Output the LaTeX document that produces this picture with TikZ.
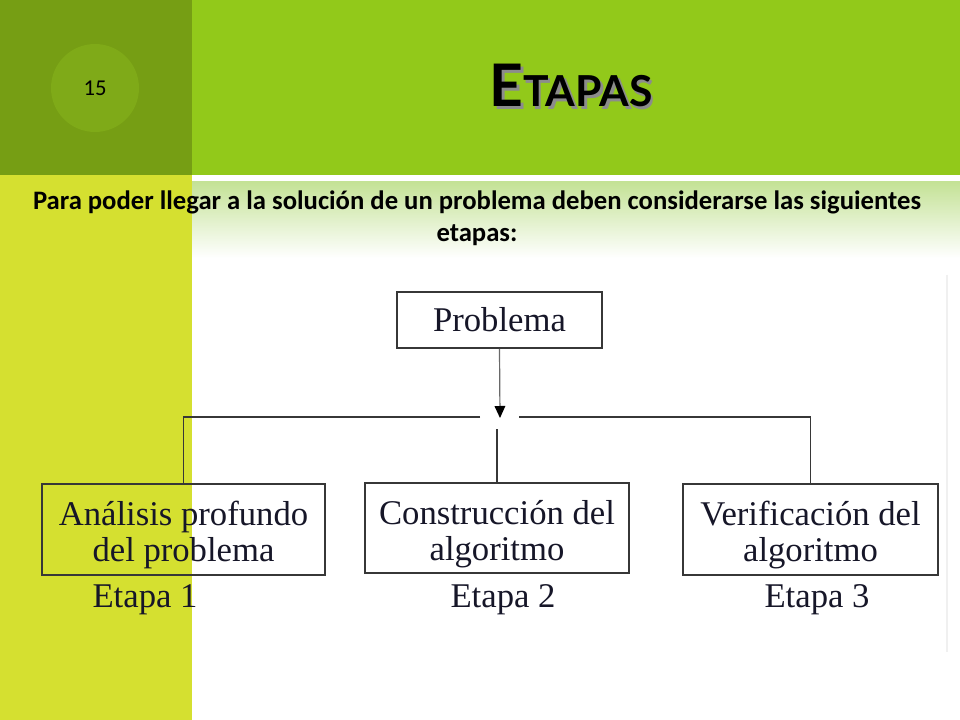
\documentclass[tikz,border=0pt]{standalone}
\usepackage{fontspec}
\setmainfont{Liberation Serif}
\newfontfamily\slidefont{Carlito}
\newfontfamily\titlefont{Lato}
\usetikzlibrary{positioning,arrows.meta}

\definecolor{olivebar}{RGB}{118,158,20}
\definecolor{numcircle}{RGB}{127,170,24}
\definecolor{leafgreen}{RGB}{146,201,26}
\definecolor{limestrip}{RGB}{213,224,48}
\definecolor{bandgreen}{RGB}{196,226,150}
\definecolor{boxline}{RGB}{55,55,55}
\definecolor{inkblue}{RGB}{22,22,40}

\newcommand{\titleword}{{\fontsize{44}{44}\selectfont E}{\fontsize{32}{32}\selectfont TAPAS}}
\newcommand{\lowerline}{\rule{0pt}{27pt}}

\begin{document}
\begin{tikzpicture}[x=0.75pt, y=-0.75pt, >={Triangle[length=9pt,width=8pt,black]}, thick]
  \useasboundingbox (0,0) rectangle (960,720);

  % Slide background
  \fill[white] (0,0) rectangle (960,720);
  \fill[olivebar] (0,0) rectangle (192,175);
  \fill[leafgreen] (192,0) rectangle (960,175);
  \fill[limestrip] (0,175) rectangle (192,720);
  \shade[top color=bandgreen, bottom color=white] (192,182) rectangle (960,258);
  \draw[black!6, line width=1pt] (947,275) -- (947,652);

  % Slide number and title
  \node[circle, fill=numcircle, minimum size=66pt, inner sep=0pt] (slidenum) at (95,88) {};
  \node[font=\slidefont\fontsize{17}{19}\selectfont] (numtext) at (slidenum) {15};
  \node[anchor=base, font=\titlefont\bfseries] (title) at (571,107)
    {\makebox[0pt][l]{\hspace{2pt}\raisebox{-2pt}{\color{black!45}\titleword}}\titleword};

  % Intro text
  \node[align=center, font=\slidefont\bfseries\fontsize{20}{24}\selectfont] (intro) at (477,218)
    {Para poder llegar a la solución de un problema deben considerarse las siguientes\\etapas:};

  % Diagram nodes
  \tikzset{
    stagebox/.style={draw=boxline, line width=1.3pt, inner sep=0pt, align=center,
      text=inkblue, font=\fontsize{26}{27}\selectfont},
    stagelabel/.style={text=inkblue, font=\fontsize{26}{27}\selectfont, inner sep=0pt},
    link/.style={draw=boxline, line width=1.4pt}
  }
  \node[stagebox, minimum width=154pt, minimum height=42pt] (problema) at (499.5,320) {Problema};
  \node[stagebox, minimum width=212pt, minimum height=68pt] (analisis) at (183.5,529.5)
    {\lowerline Análisis profundo\\del problema};
  \node[stagebox, minimum width=198pt, minimum height=68pt] (construccion) at (497,528)
    {\lowerline Construcción del\\algoritmo};
  \node[stagebox, minimum width=191pt, minimum height=68pt] (verificacion) at (810.5,529.5)
    {\lowerline Verificación del\\algoritmo};

  \node[stagelabel] (etapa1) at (145,600) {Etapa 1};
  \node[stagelabel] (etapa2) at (503,600) {Etapa 2};
  \node[stagelabel] (etapa3) at (817,600) {Etapa 3};

  % Connectors
  \coordinate (tip) at (500,418);
  \coordinate (gapleft) at (480,417);
  \coordinate (gapright) at (519,417);
  \coordinate (gapdown) at (497,429);

  \draw[->, draw=boxline!75, line width=0.9pt] (problema.south) -- (tip);
  \draw[link] (gapleft) -| (analisis.north);
  \draw[link] (gapright) -| (verificacion.north);
  \draw[link] (gapdown) -- (construccion.north);

\end{tikzpicture}
\end{document}
